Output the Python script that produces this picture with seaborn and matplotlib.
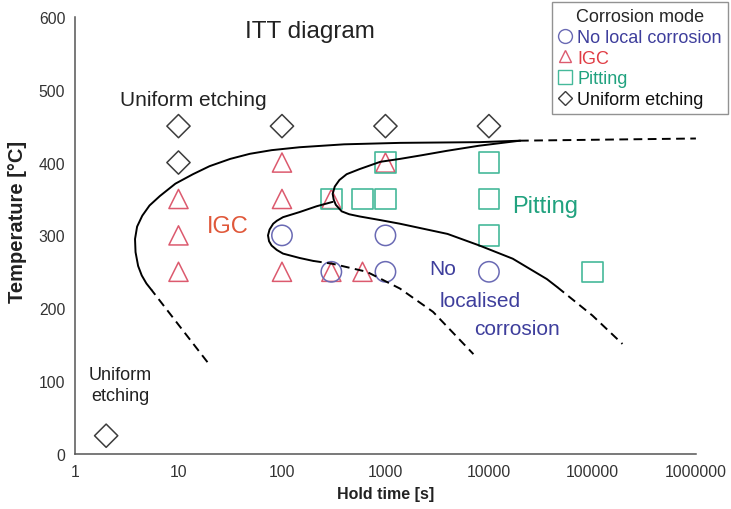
import numpy as np
import pandas as pd
import matplotlib
matplotlib.use("Agg")
import matplotlib.pyplot as plt
from matplotlib.lines import Line2D
from matplotlib.ticker import FixedLocator, NullLocator
import seaborn as sns

sns.set_theme(style="white")
plt.rcParams["font.family"] = ["Liberation Sans", "DejaVu Sans"]

# ---------------- data ----------------
uniform_time = [2, 10, 10, 100, 1000, 10000]
uniform_temp = [25, 450, 400, 450, 450, 450]
igc_time = [10, 10, 10, 100, 100, 100, 300, 300, 600, 1000]
igc_temp = [350, 300, 250, 400, 350, 250, 350, 250, 250, 400]
noloc_time = [100, 1000, 300, 1000, 10000]
noloc_temp = [300, 300, 250, 250, 250]
pit_time = [300, 600, 1000, 1000, 10000, 10000, 10000, 100000]
pit_temp = [350, 350, 350, 400, 400, 350, 300, 250]

# boundary curves: log10(hold time [s]) and temperature [C]
outer_solid_logt = [0.74, 0.69, 0.645, 0.61, 0.585, 0.58, 0.60, 0.65, 0.72, 0.82, 0.97, 1.14,
                    1.30, 1.50, 1.69, 1.90, 2.17, 2.60, 3.14, 3.91, 4.30]
outer_solid_temp = [225, 234, 245, 258, 277, 295, 312, 327, 341, 354, 371, 384,
                    395, 405, 412, 417, 421, 425, 427, 428, 430]
outer_low_dash_logt = [1.28, 0.74]
outer_low_dash_temp = [126, 225]
outer_top_dash_logt = [4.30, 6.0]
outer_top_dash_temp = [430, 433]

middle_solid_logt = [4.30, 3.90, 3.59, 3.35, 3.14, 2.95, 2.75, 2.625, 2.555, 2.51, 2.49, 2.50,
                     2.52, 2.577, 2.65, 2.75, 2.95, 3.14, 3.60, 3.91, 4.23, 4.56, 4.66]
middle_solid_temp = [430, 423, 416, 410, 405, 401, 391, 384, 376, 367, 357, 349,
                     342, 333, 329, 326, 321, 316, 302, 286, 268, 240, 229]
middle_dash_logt = [4.66, 5.0, 5.29]
middle_dash_temp = [229, 190, 151]

inner_solid_logt = [2.49, 2.335, 2.17, 2.01, 1.95, 1.915, 1.88, 1.865, 1.875, 1.90, 1.95,
                    2.01, 2.17, 2.30]
inner_solid_temp = [346, 340, 332, 325, 320, 316, 308, 300, 292, 286, 280,
                    275, 269, 265]
inner_dash_logt = [2.30, 2.49, 2.82, 3.14, 3.46, 3.85]
inner_dash_temp = [265, 261, 250, 227, 195, 137]

x_ticks = [1, 10, 100, 1000, 10000, 100000, 1000000]
x_ticklabels = ["1", "10", "100", "1000", "10000", "100000", "1000000"]
y_ticks = [0, 100, 200, 300, 400, 500, 600]

# ---------------- styling ----------------
c_tri = "#dc5a6e"
c_circ = "#6a6ab4"
c_sq = "#45b99a"
c_dia = "#3c3c3c"
c_igc_txt = "#e0583a"
c_pit_txt = "#21a27f"
c_no_txt = "#3e3e9c"

fig, ax = plt.subplots(figsize=(7.31, 5.10), dpi=100)
fig.subplots_adjust(left=0.1026, right=0.952, bottom=0.108, top=0.965)

# markers
sns.scatterplot(x=igc_time, y=igc_temp, marker="^", s=190, facecolor="none",
                edgecolor=c_tri, linewidth=1.1, ax=ax, zorder=3)
sns.scatterplot(x=noloc_time, y=noloc_temp, marker="o", s=215, facecolor="none",
                edgecolor=c_circ, linewidth=1.1, ax=ax, zorder=3)
sns.scatterplot(x=pit_time, y=pit_temp, marker="s", s=215, facecolor="none",
                edgecolor=c_sq, linewidth=1.2, ax=ax, zorder=3)
sns.scatterplot(x=uniform_time, y=uniform_temp, marker="D", s=140, facecolor="none",
                edgecolor=c_dia, linewidth=1.1, ax=ax, zorder=3)

# curves
dash = (0, (4.5, 2.8))
solid_sets = [(outer_solid_logt, outer_solid_temp),
              (middle_solid_logt, middle_solid_temp),
              (inner_solid_logt, inner_solid_temp)]
dash_sets = [(outer_low_dash_logt, outer_low_dash_temp),
             (outer_top_dash_logt, outer_top_dash_temp),
             (middle_dash_logt, middle_dash_temp),
             (inner_dash_logt, inner_dash_temp)]
for lx, ty in solid_sets:
    sns.lineplot(x=np.power(10.0, lx), y=ty, sort=False, estimator=None, color="black",
                 linewidth=1.4, ax=ax, zorder=4, solid_joinstyle="round")
for lx, ty in dash_sets:
    sns.lineplot(x=np.power(10.0, lx), y=ty, sort=False, estimator=None, color="black",
                 linewidth=1.4, linestyle=dash, ax=ax, zorder=4)

ax.set_xscale("log")
ax.set_xlim(1, 1000000)
ax.set_ylim(0, 600)
ax.xaxis.set_major_locator(FixedLocator(x_ticks))
ax.xaxis.set_minor_locator(NullLocator())
ax.set_xticklabels(x_ticklabels)
ax.set_yticks(y_ticks)
ax.tick_params(axis="both", labelsize=11.3, colors="#333333")
ax.tick_params(axis="x", direction="inout", length=6, width=1, color="#555555", pad=4)
ax.tick_params(axis="y", direction="out", length=4, width=1, color="#555555", pad=3)
ax.grid(False)
for side in ["top", "right"]:
    ax.spines[side].set_visible(False)
for side in ["left", "bottom"]:
    ax.spines[side].set_color("#555555")
    ax.spines[side].set_linewidth(1.1)

ax.set_xlabel("Hold time [s]", fontsize=11.5, fontweight="bold", color="#222222")
ax.set_ylabel("Temperature [°C]", fontsize=14.5, fontweight="bold", color="#222222")
ax.xaxis.set_label_coords(0.5, -0.073)
ax.yaxis.set_label_coords(-0.077, 0.533)

# annotations
ax.text(186, 581, "ITT diagram", fontsize=17.5, ha="center", va="center", color="#222222")
ax.text(2.72, 487, "Uniform etching", fontsize=15, ha="left", va="center", color="#222222")
ax.text(30, 313, "IGC", fontsize=17, ha="center", va="center", color=c_igc_txt)
ax.text(34800, 340, "Pitting", fontsize=17, ha="center", va="center", color=c_pit_txt)
ax.text(3600, 254, "No", fontsize=15, ha="center", va="center", color=c_no_txt)
ax.text(8200, 210, "localised", fontsize=15, ha="center", va="center", color=c_no_txt)
ax.text(18600, 172, "corrosion", fontsize=15, ha="center", va="center", color=c_no_txt)
ax.text(2.72, 95, "Uniform\netching", fontsize=13, ha="center", va="center",
        color="#222222", linespacing=1.3)

# legend
handles = [
    Line2D([], [], marker="o", linestyle="none", markersize=10, mfc="none", mec=c_circ, mew=1.0),
    Line2D([], [], marker="^", linestyle="none", markersize=9, mfc="none", mec=c_tri, mew=1.0),
    Line2D([], [], marker="s", linestyle="none", markersize=9.5, mfc="none", mec=c_sq, mew=1.0),
    Line2D([], [], marker="D", linestyle="none", markersize=7.5, mfc="none", mec=c_dia, mew=1.0),
]
labels = ["No local corrosion", "IGC", "Pitting", "Uniform etching"]
leg = fig.legend(handles, labels, title="Corrosion mode", loc="upper left",
                 bbox_to_anchor=(0.755, 0.994), borderaxespad=0, fontsize=13,
                 title_fontsize=13, frameon=True, fancybox=False, handlelength=0.8,
                 handletextpad=0.25, labelspacing=0.2, borderpad=0.35)
leg.get_frame().set_edgecolor("#777777")
leg.get_frame().set_linewidth(1.0)
for txt, col in zip(leg.get_texts(), [c_no_txt, "#e03c44", c_pit_txt, "#111111"]):
    txt.set_color(col)

fig.savefig("out.png", dpi=100)
